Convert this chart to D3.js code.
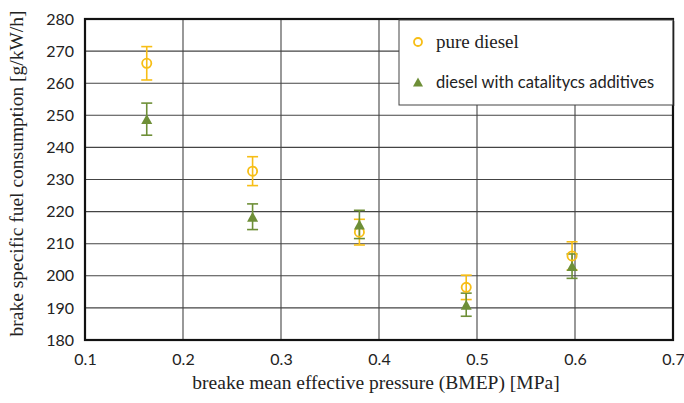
<!DOCTYPE html>
<html>
<head>
<meta charset="utf-8">
<script src="https://cdn.jsdelivr.net/npm/d3@7"></script>
<style>
  body { margin: 0; background: #fff; }
  svg { display: block; }
</style>
</head>
<body>
<svg width="684" height="403"></svg>
<script>
// values
var bmep = [0.163, 0.271, 0.380, 0.489, 0.597];
var pureDiesel = [266.2, 232.6, 213.6, 196.4, 206.2];
var pureErr = [5.2, 4.5, 4.0, 3.8, 4.4];
var additive = [248.8, 218.4, 216.0, 191.0, 203.0];
var additiveErr = [5.0, 4.0, 4.4, 3.6, 3.8];
var xTicks = [0.1, 0.2, 0.3, 0.4, 0.5, 0.6, 0.7];
var yTicks = [180, 190, 200, 210, 220, 230, 240, 250, 260, 270, 280];
var seriesNames = ["pure diesel", "diesel with catalitycs additives"];

var yellow = "#f7be16";
var green = "#6e8f37";

var svg = d3.select("svg");
// plot box (note: "top" is taken by window.top)
var pLeft = 85, pRight = 673, pTop = 19, pBottom = 340;

var x = d3.scaleLinear().domain([0.1, 0.7]).range([pLeft, pRight]);
var y = d3.scaleLinear().domain([180, 280]).range([pBottom, pTop]);

// grid lines
svg.append("g").selectAll("line").data(xTicks).enter()
  .append("line")
  .attr("x1", function(d) { return x(d); }).attr("x2", function(d) { return x(d); })
  .attr("y1", pTop).attr("y2", pBottom)
  .attr("stroke", "#444").attr("stroke-width", 1.1);
svg.append("g").selectAll("line").data(yTicks).enter()
  .append("line")
  .attr("x1", pLeft).attr("x2", pRight)
  .attr("y1", function(d) { return y(d); }).attr("y2", function(d) { return y(d); })
  .attr("stroke", "#444").attr("stroke-width", 1.1);

// plot frame
svg.append("rect")
  .attr("x", pLeft).attr("y", pTop)
  .attr("width", pRight - pLeft).attr("height", pBottom - pTop)
  .attr("fill", "none").attr("stroke", "#111").attr("stroke-width", 2.2);

// axes (labels only)
var xAxis = svg.append("g").attr("transform", "translate(0," + pBottom + ")")
  .call(d3.axisBottom(x).tickValues(xTicks).tickFormat(d3.format(".1f")).tickSize(0).tickPadding(14));
var yAxis = svg.append("g").attr("transform", "translate(" + pLeft + ",0)")
  .call(d3.axisLeft(y).tickValues(yTicks).tickSize(0).tickPadding(11));
[xAxis, yAxis].forEach(function(a) {
  a.select(".domain").remove();
  a.selectAll("text").attr("fill", "#222")
    .style("font-family", "Lato, 'Open Sans', sans-serif").style("font-size", "16px");
});

// axis titles
svg.append("text")
  .attr("x", (pLeft + pRight) / 2 - 3).attr("y", 389)
  .attr("text-anchor", "middle")
  .style("font-family", "'Liberation Serif', serif").style("font-size", "19.5px")
  .attr("fill", "#222")
  .text("breake mean effective pressure (BMEP) [MPa]");
svg.append("text")
  .attr("transform", "translate(23," + ((pTop + pBottom) / 2 - 6) + ") rotate(-90)")
  .attr("text-anchor", "middle")
  .style("font-family", "'Liberation Serif', serif").style("font-size", "19.5px")
  .attr("fill", "#222")
  .text("brake specific fuel consumption [g/kW/h]");

function triPath(s) {
  var h = s * 0.9;
  return "M0," + (-h / 2) + "L" + (s / 2) + "," + (h / 2) + "L" + (-s / 2) + "," + (h / 2) + "Z";
}

function drawErr(vals, errs, color) {
  var g = svg.append("g");
  var cap = 5.5;
  g.selectAll("line.stem").data(vals).enter().append("line").attr("class", "stem")
    .attr("x1", function(d, i) { return x(bmep[i]); }).attr("x2", function(d, i) { return x(bmep[i]); })
    .attr("y1", function(d, i) { return y(d + errs[i]); }).attr("y2", function(d, i) { return y(d - errs[i]); })
    .attr("stroke", color).attr("stroke-width", 1.6);
  g.selectAll("line.capT").data(vals).enter().append("line").attr("class", "capT")
    .attr("x1", function(d, i) { return x(bmep[i]) - cap; }).attr("x2", function(d, i) { return x(bmep[i]) + cap; })
    .attr("y1", function(d, i) { return y(d + errs[i]); }).attr("y2", function(d, i) { return y(d + errs[i]); })
    .attr("stroke", color).attr("stroke-width", 1.6);
  g.selectAll("line.capB").data(vals).enter().append("line").attr("class", "capB")
    .attr("x1", function(d, i) { return x(bmep[i]) - cap; }).attr("x2", function(d, i) { return x(bmep[i]) + cap; })
    .attr("y1", function(d, i) { return y(d - errs[i]); }).attr("y2", function(d, i) { return y(d - errs[i]); })
    .attr("stroke", color).attr("stroke-width", 1.6);
}

drawErr(pureDiesel, pureErr, yellow);
drawErr(additive, additiveErr, green);

// markers
svg.append("g").selectAll("circle").data(pureDiesel).enter()
  .append("circle")
  .attr("cx", function(d, i) { return x(bmep[i]); })
  .attr("cy", function(d) { return y(d); })
  .attr("r", 4.6)
  .attr("fill", "none").attr("stroke", yellow).attr("stroke-width", 1.8);

svg.append("g").selectAll("path").data(additive).enter()
  .append("path")
  .attr("d", triPath(11))
  .attr("transform", function(d, i) { return "translate(" + x(bmep[i]) + "," + y(d) + ")"; })
  .attr("fill", green);

// legend
var lg = svg.append("g");
lg.append("rect")
  .attr("x", 399).attr("y", 20).attr("width", 274).attr("height", 85)
  .attr("fill", "#fff").attr("stroke", "#444").attr("stroke-width", 1);
lg.append("line").attr("x1", 673.5).attr("x2", 673.5).attr("y1", 21).attr("y2", 106)
  .attr("stroke", "#222").attr("stroke-width", 1.5);
lg.append("circle").attr("cx", 418).attr("cy", 42).attr("r", 4)
  .attr("fill", "none").attr("stroke", yellow).attr("stroke-width", 1.8);
lg.append("text").attr("x", 436).attr("y", 48)
  .style("font-family", "'Liberation Serif', serif").style("font-size", "19px").attr("fill", "#222")
  .text(seriesNames[0]);
lg.append("path").attr("d", triPath(10)).attr("transform", "translate(418,82)").attr("fill", green);
lg.append("text").attr("x", 436).attr("y", 88)
  .style("font-family", "Lato, 'Open Sans', sans-serif").style("font-size", "16.5px").attr("fill", "#222")
  .text(seriesNames[1]);
</script>
</body>
</html>
